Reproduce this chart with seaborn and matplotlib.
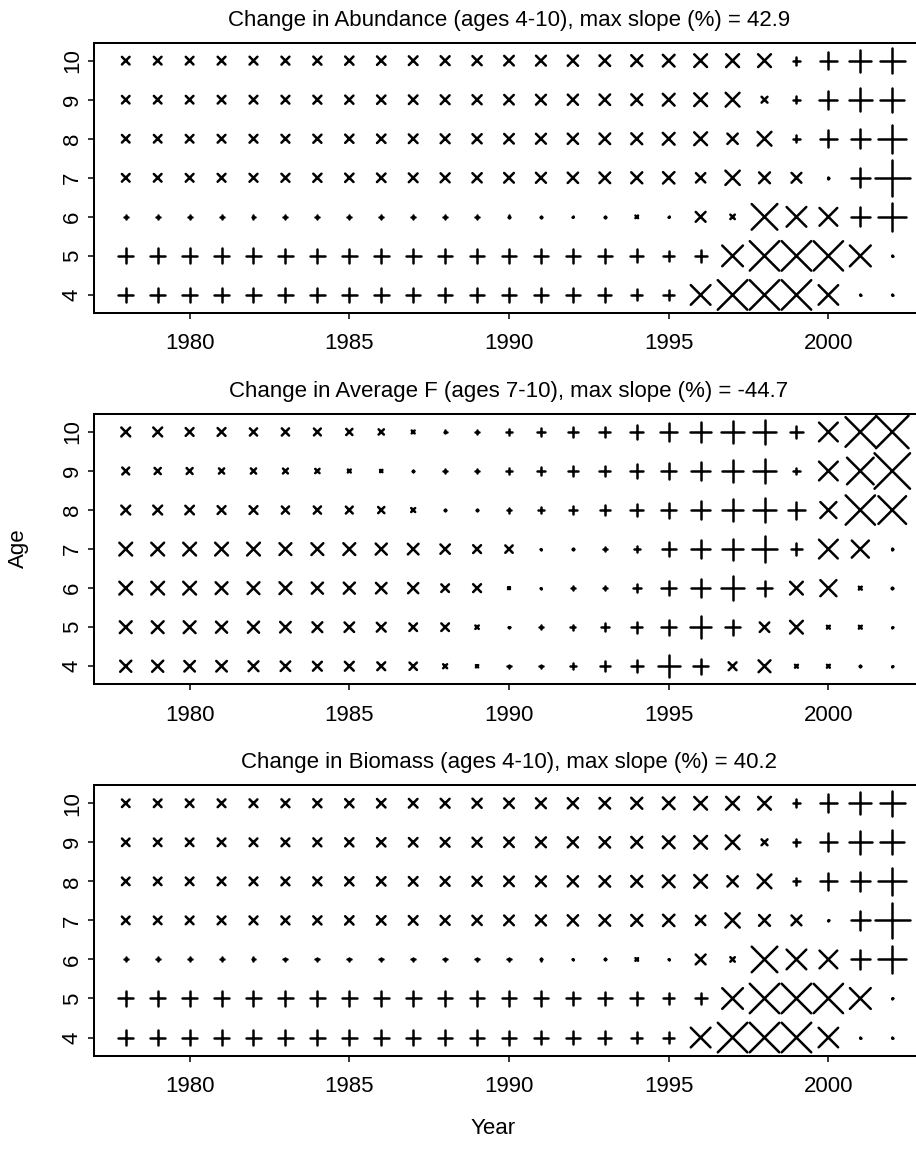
import numpy as np
import pandas as pd
import matplotlib
matplotlib.use("Agg")
import matplotlib.pyplot as plt
import seaborn as sns

# ---------------------------------------------------------------------------
# Data: annual slope (%) by age and year; rows ordered age 10 -> age 4
# ---------------------------------------------------------------------------
years = list(range(1978, 2003))
ages = [10, 9, 8, 7, 6, 5, 4]
xtick_years = [1980, 1985, 1990, 1995, 2000]

abundance_title = "Change in Abundance (ages 4-10), max slope (%) = 42.9"
abundance_max = 42.9
abundance = [
    [-9.2, -9.3, -9.3, -9.4, -9.5, -9.6, -9.8, -10.0, -10.2, -10.5, -10.8, -11.1, -11.6, -11.9, -12.4, -12.8, -13.3, -14.2, -15.4, -15.6, -15.5, 9.4, 21.2, 26.3, 30.8],
    [-9.1, -9.2, -9.2, -9.3, -9.4, -9.5, -9.7, -9.9, -10.1, -10.4, -10.7, -11.0, -11.5, -11.9, -12.3, -12.7, -13.1, -14.3, -15.5, -16.7, -7.1, 8.9, 21.5, 27.4, 28.6],
    [-9.2, -9.2, -9.3, -9.4, -9.5, -9.6, -9.8, -10.0, -10.2, -10.5, -10.8, -11.1, -11.6, -12.0, -12.4, -12.8, -13.2, -14.3, -15.5, -12.5, -16.7, 8.9, 20.3, 22.6, 33.4],
    [-9.3, -9.3, -9.4, -9.5, -9.6, -9.7, -9.9, -10.1, -10.3, -10.6, -10.9, -11.2, -11.7, -12.1, -12.5, -12.9, -13.3, -13.8, -11.3, -17.3, -13.1, -11.9, 2.0, 22.6, 42.9],
    [4.9, 4.9, 4.8, 4.8, 4.8, 4.7, 4.7, 4.6, 4.6, 4.5, 4.3, 4.1, 3.6, 3.2, 1.5, 2.4, -3.2, 1.5, -11.9, -5.4, -31.0, -23.8, -21.5, 22.6, 33.4],
    [17.9, 17.9, 17.9, 17.9, 17.9, 17.8, 17.8, 17.8, 17.7, 17.7, 17.6, 17.5, 17.2, 17.0, 16.9, 16.7, 15.8, 12.9, 14.3, -25.0, -35.6, -35.8, -35.4, -25.2, 1.2],
    [17.9, 17.9, 17.9, 17.9, 17.8, 17.8, 17.8, 17.7, 17.7, 17.6, 17.6, 17.5, 17.0, 16.6, 16.3, 16.0, 13.3, 12.9, -23.8, -35.8, -35.6, -35.7, -23.6, 1.2, 1.2],
]

avgf_title = "Change in Average F (ages 7-10), max slope (%) = -44.7"
avgf_max = 44.7
avg_f = [
    [-11.2, -11.2, -9.9, -9.9, -9.1, -9.1, -8.7, -7.8, -6.6, -3.7, 3.7, 5.0, 8.1, 9.3, 11.8, 13.7, 16.8, 21.7, 26.1, 28.6, 29.8, 16.1, -23.6, -37.3, -41.0],
    [-8.7, -7.8, -7.5, -6.6, -6.6, -6.2, -5.4, -3.7, -2.9, 2.5, 4.3, 5.8, 7.8, 9.6, 12.0, 13.4, 16.8, 19.3, 23.6, 26.9, 29.8, 7.8, -23.6, -33.5, -44.7],
    [-11.2, -11.2, -10.8, -9.9, -9.9, -9.1, -9.1, -8.7, -7.8, -5.0, 1.6, 3.1, 6.2, 8.4, 10.6, 13.0, 16.1, 19.0, 23.2, 27.3, 29.8, 21.5, -20.2, -36.9, -34.8],
    [-16.1, -16.1, -16.1, -16.1, -16.1, -14.9, -14.9, -14.9, -14.0, -13.4, -11.8, -9.9, -9.3, 1.2, 3.3, 5.8, 7.8, 17.4, 23.2, 26.5, 32.3, 14.9, -23.6, -21.5, 1.8],
    [-16.1, -16.1, -16.1, -14.9, -14.9, -14.9, -14.0, -14.0, -13.3, -12.8, -9.6, -9.9, -2.5, 1.2, 5.3, 5.8, 10.6, 18.2, 23.2, 29.8, 19.0, -16.1, -20.2, -3.7, 2.5],
    [-14.9, -14.9, -14.9, -14.0, -14.0, -13.3, -12.4, -12.0, -11.2, -9.6, -9.6, -4.3, 1.6, 5.4, 6.2, 9.9, 14.0, 19.0, 27.3, 18.6, -12.0, -16.1, -3.7, -3.7, 1.6],
    [-14.0, -14.0, -13.3, -13.3, -12.4, -12.0, -11.2, -11.2, -9.9, -9.3, -5.0, -2.9, 4.3, 4.3, 7.8, 13.0, 15.7, 27.3, 18.6, -9.9, -14.9, -3.7, -3.7, 2.5, 1.6],
]

biomass_title = "Change in Biomass (ages 4-10), max slope (%) = 40.2"
biomass_max = 40.2
biomass = [
    [-8.6, -8.7, -8.7, -8.8, -8.9, -9.0, -9.2, -9.4, -9.6, -9.8, -10.1, -10.4, -10.9, -11.2, -11.6, -12.0, -12.5, -13.3, -14.4, -14.6, -14.5, 8.8, 19.9, 24.6, 28.9],
    [-8.5, -8.6, -8.6, -8.7, -8.8, -8.9, -9.1, -9.3, -9.5, -9.7, -10.0, -10.3, -10.8, -11.2, -11.5, -11.9, -12.3, -13.4, -14.5, -15.6, -6.7, 8.3, 20.1, 25.7, 26.8],
    [-8.6, -8.6, -8.7, -8.8, -8.9, -9.0, -9.2, -9.4, -9.6, -9.8, -10.1, -10.4, -10.9, -11.2, -11.6, -12.0, -12.4, -13.4, -14.5, -11.7, -15.6, 8.3, 19.0, 21.2, 31.3],
    [-8.7, -8.7, -8.8, -8.9, -9.0, -9.1, -9.3, -9.5, -9.7, -9.9, -10.2, -10.5, -11.0, -11.3, -11.7, -12.1, -12.5, -12.9, -10.6, -16.2, -12.3, -11.2, 1.9, 21.2, 40.2],
    [4.6, 4.6, 4.5, 4.5, 4.5, 4.4, 4.4, 4.3, 4.3, 4.2, 4.0, 3.8, 3.4, 3.0, 1.4, 2.2, -3.0, 1.4, -11.2, -5.1, -29.0, -22.3, -20.1, 21.2, 31.3],
    [16.8, 16.8, 16.8, 16.8, 16.8, 16.7, 16.7, 16.7, 16.6, 16.6, 16.5, 16.4, 16.1, 15.9, 15.8, 15.6, 14.8, 12.1, 13.4, -23.4, -33.4, -33.5, -33.2, -23.6, 1.1],
    [16.8, 16.8, 16.8, 16.8, 16.7, 16.7, 16.7, 16.6, 16.6, 16.5, 16.5, 16.4, 15.9, 15.6, 15.3, 15.0, 12.5, 12.1, -22.3, -33.5, -33.4, -33.5, -22.1, 1.1, 1.1],
]

panels = [
    (abundance_title, abundance_max, abundance),
    (avgf_title, avgf_max, avg_f),
    (biomass_title, biomass_max, biomass),
]

# ---------------------------------------------------------------------------
# Style
# ---------------------------------------------------------------------------
sns.set_style("ticks")
plt.rcParams["font.family"] = ["Liberation Sans", "DejaVu Sans"]
plt.rcParams["axes.linewidth"] = 1.45
for key in ["text.color", "axes.labelcolor", "xtick.color", "ytick.color",
            "axes.edgecolor", "xtick.labelcolor", "ytick.labelcolor"]:
    plt.rcParams[key] = "black"

DPI = 100
FIG_W, FIG_H = 916, 1153
fig = plt.figure(figsize=(FIG_W / DPI, FIG_H / DPI), dpi=DPI)

# Largest marker arm (pixels) for the panel maximum slope
MAX_PX = 35.5
PX_TO_PT = 72.0 / DPI
MARK_LW = 1.8

ax_left_px, ax_right_px = 93.8, 924.2
panel_tops_px = [42.7, 414.0, 785.3]
panel_h_px = 270.2

for (title, vmax, grid), top_px in zip(panels, panel_tops_px):
    bottom_px = top_px + panel_h_px
    ax = fig.add_axes([
        ax_left_px / FIG_W,
        1 - bottom_px / FIG_H,
        (ax_right_px - ax_left_px) / FIG_W,
        panel_h_px / FIG_H,
    ])

    rows = []
    for age, row in zip(ages, grid):
        for yr, v in zip(years, row):
            rows.append({"year": yr, "age": age, "slope": v,
                         "sign": "pos" if v >= 0 else "neg"})
    df = pd.DataFrame(rows)

    # Marker width grows in proportion to |slope| relative to the panel max
    width_pt = df["slope"].abs() / vmax * MAX_PX * PX_TO_PT
    areas = (width_pt ** 2).to_numpy()

    sns.scatterplot(
        data=df, x="year", y="age", style="sign",
        markers={"pos": "+", "neg": "x"}, style_order=["pos", "neg"],
        s=areas, color="black", linewidth=MARK_LW, legend=False, ax=ax,
    )
    for coll in ax.collections:
        coll.set_capstyle("round")
        coll.set_joinstyle("round")

    ax.set_xlim(1977.0, 2003.0)
    ax.set_ylim(3.54, 10.46)
    ax.set_xticks(xtick_years)
    ax.set_xticklabels([str(y) for y in xtick_years])
    ax.set_yticks(sorted(ages))
    ax.set_yticklabels([str(a) for a in sorted(ages)], rotation=90, va="center")
    ax.tick_params(axis="both", length=4.3, width=1.1, labelsize=16,
                   color="black", labelcolor="black")
    ax.tick_params(axis="x", pad=10.5)
    ax.tick_params(axis="y", pad=3.5)
    ax.set_xlabel("")
    ax.set_ylabel("")
    for side in ["left", "top", "bottom", "right"]:
        ax.spines[side].set_visible(True)
        ax.spines[side].set_color("black")
        ax.spines[side].set_linewidth(1.45)
    ax.set_title(title, fontsize=16, pad=12.2, color="black")

fig.text(18 / FIG_W, 1 - 548.5 / FIG_H, "Age", rotation=90,
         ha="center", va="center", fontsize=16, color="black")
fig.text(493 / FIG_W, 1 - 1129 / FIG_H, "Year",
         ha="center", va="center", fontsize=16, color="black")

fig.savefig("out.png", dpi=DPI, facecolor="white")
